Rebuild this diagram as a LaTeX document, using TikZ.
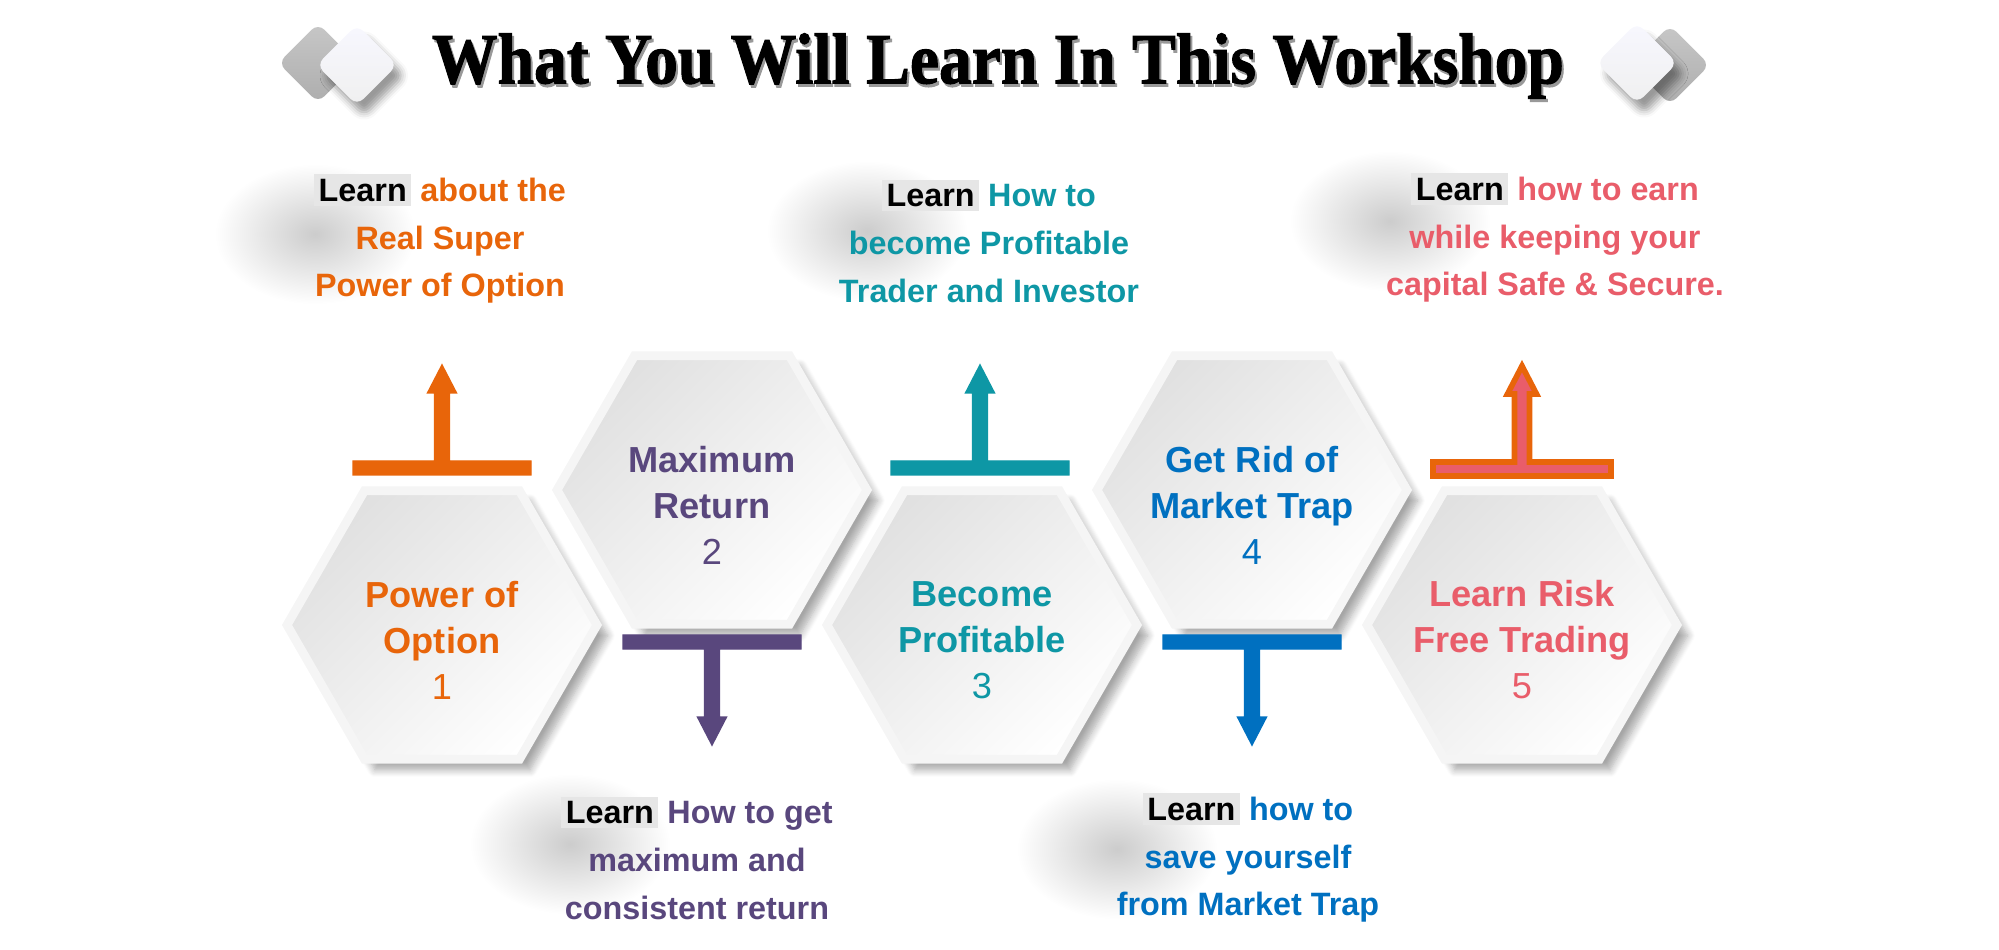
\documentclass[tikz,border=0pt]{standalone}
\usepackage{fontspec}
\setmainfont{Liberation Sans}
\newfontfamily\titlefont{Liberation Serif}[BoldFeatures={FakeBold=1.5}]
\usepackage{xcolor}
\usetikzlibrary{shapes.geometric, shadows.blur, fadings}

\definecolor{optorange}{HTML}{E8650A}
\definecolor{retpurple}{HTML}{59477D}
\definecolor{proteal}{HTML}{0E97A5}
\definecolor{trapblue}{HTML}{0070C0}
\definecolor{riskpink}{HTML}{E95D6A}
\definecolor{learnbg}{HTML}{E6E6E6}

\tikzfading[name=softglow, inner color=transparent!0, outer color=transparent!100]

\newcommand{\learn}{{\setlength{\fboxsep}{1.3pt}\colorbox{learnbg}{\color{black}Learn}}}

\begin{document}
\begin{tikzpicture}[
    hexa/.style={regular polygon, regular polygon sides=6, minimum size=3.1cm, inner sep=0pt,
        draw=black!4, line width=2.5pt, top color=black!12, bottom color=white, shading angle=45,
        blur shadow={shadow xshift=3pt, shadow yshift=-3pt, shadow opacity=35, shadow blur steps=8}},
    hextext/.style={align=center, font=\bfseries\fontsize{10.3}{13.1}\selectfont},
    desc/.style={align=center, font=\bfseries\fontsize{9.2}{13.6}\selectfont},
    backdia/.style={rectangle, rotate=45, minimum size=0.56cm, rounded corners=2.5pt,
        top color=black!22, bottom color=black!32},
    frontdia/.style={rectangle, rotate=45, minimum size=0.57cm, rounded corners=2.5pt,
        top color=black!8!blue!3, bottom color=white!94!black,
        blur shadow={shadow xshift=2pt, shadow yshift=-3pt, shadow opacity=40}},
    glow/.style={black, opacity=0.2, path fading=softglow},
    tee/.pic={\filldraw (-0.89,-0.07) -- (0.89,-0.07) -- (0.89,0.07) -- (0.075,0.07)
        -- (0.075,0.75) -- (0.145,0.75) -- (0,1.03) -- (-0.145,0.75) -- (-0.075,0.75)
        -- (-0.075,0.07) -- (-0.89,0.07) -- cycle;}
]
    \useasboundingbox (0,0) rectangle (19.99,9.49);

    % Title
    \node[backdia] (dl2) at (3.18,8.86) {};
    \node[frontdia] (dl1) at (3.57,8.84) {};
    \node[backdia] (dr2) at (16.70,8.84) {};
    \node[frontdia] (dr1) at (16.37,8.86) {};
    \node[text=black!40, font=\titlefont\bfseries\fontsize{20.5}{24}\selectfont] (tshadow) at (10.00,8.80)
        {\scalebox{0.91}[1]{What You Will Learn In This Workshop}};
    \node[font=\titlefont\bfseries\fontsize{20.5}{24}\selectfont] (title) at (9.98,8.83)
        {\scalebox{0.91}[1]{What You Will Learn In This Workshop}};

    % Glows behind the descriptions
    \fill[glow] (3.15,7.15) ellipse (1.0 and 0.7);
    \fill[glow] (5.70,1.05) ellipse (1.0 and 0.7);
    \fill[glow] (8.67,7.18) ellipse (1.0 and 0.7);
    \fill[glow] (11.17,1.0) ellipse (1.0 and 0.7);
    \fill[glow] (13.90,7.28) ellipse (1.0 and 0.7);

    % Hexagons
    \node[hexa] (h1) at (4.42,3.24) {};
    \node[hexa] (h2) at (7.12,4.59) {};
    \node[hexa] (h3) at (9.82,3.24) {};
    \node[hexa] (h4) at (12.52,4.59) {};
    \node[hexa] (h5) at (15.22,3.24) {};

    \node[hextext, text=optorange] (t1) at ([yshift=-0.15cm]h1.center) {Power of\\Option\\{\mdseries 1}};
    \node[hextext, text=retpurple] (t2) at ([yshift=-0.15cm]h2.center) {Maximum\\Return\\{\mdseries 2}};
    \node[hextext, text=proteal] (t3) at ([yshift=-0.15cm]h3.center) {Become\\Profitable\\{\mdseries 3}};
    \node[hextext, text=trapblue] (t4) at ([yshift=-0.15cm]h4.center) {Get Rid of\\Market Trap\\{\mdseries 4}};
    \node[hextext, text=riskpink] (t5) at ([yshift=-0.15cm]h5.center) {Learn Risk\\Free Trading\\{\mdseries 5}};

    % Arrows
    \pic[optorange] at ([yshift=1.57cm]h1.center) {tee};
    \pic[retpurple, rotate=180] at ([yshift=-1.52cm]h2.center) {tee};
    \pic[proteal] at ([xshift=-0.02cm, yshift=1.57cm]h3.center) {tee};
    \pic[trapblue, rotate=180] at ([yshift=-1.52cm]h4.center) {tee};
    \pic[draw=optorange, fill=riskpink, line width=1.6pt] at ([yshift=1.56cm]h5.center) {tee};

    % Descriptions
    \node[desc, text=optorange] (d1) at (4.40,7.10) {\learn{} about the\\Real Super\\Power of Option};
    \node[desc, text=retpurple] (d2) at (6.97,0.91) {\learn{} How to get\\maximum and\\consistent return};
    \node[desc, text=proteal] (d3) at (9.89,7.08) {\learn{} How to\\become Profitable\\Trader and Investor};
    \node[desc, text=trapblue] (d4) at (12.48,0.91) {\learn{} how to\\save yourself\\from Market Trap};
    \node[desc, text=riskpink] (d5) at (15.55,7.11) {\learn{} how to earn\\while keeping your\\capital Safe \& Secure.};
\end{tikzpicture}
\end{document}
